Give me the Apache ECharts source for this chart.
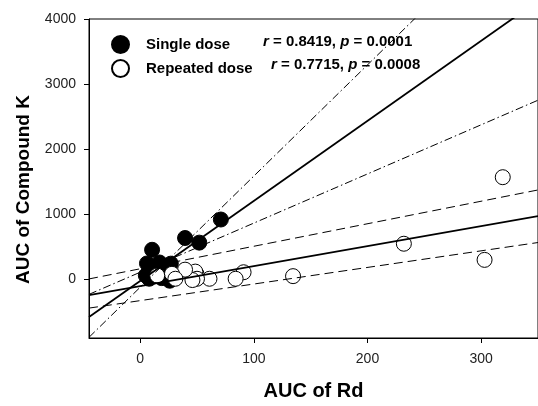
<!DOCTYPE html>
<html>
<head>
<meta charset="utf-8">
<script src="https://cdn.jsdelivr.net/npm/echarts@6/dist/echarts.min.js"></script>
<style>
  html, body { margin: 0; padding: 0; background: #fff; }
  #main { width: 538px; height: 406px; }
</style>
</head>
<body>
<div id="main"></div>
<script>
// AUC of Rd (x) vs AUC of Compound K (y)
var singleDose = [
    [71, 920], [39.5, 636], [52, 565], [10.5, 455],
    [6, 245], [17, 260], [24, 210], [27, 242], [12, 150],
    [14, 90], [5, 60], [8, 10], [19, 20], [26, -20]
];
var repeatedDose = [
    [319, 1570], [232, 548], [303, 300], [134.5, 50],
    [91, 110], [84, 10], [61, 10], [49.5, 86], [48.5, 120],
    [50, 10], [46, -10], [39.5, 150], [28, 86], [15, 60], [31, 10]
];
// lines: [intercept, slope]
var singleFit = [-25, 12.3];
var singleBandHi = [-121, 17.08];
var singleBandLo = [110, 7.55];
var repeatedFit = [-103, 3.07];
var repeatedBandHi = [163, 3.46];
var repeatedBandLo = [-326, 2.55];

var statsSingle = '{i|r} = 0.8419, {i|p} = 0.0001';
var statsRepeated = '{i|r} = 0.7715, {i|p} = 0.0008';

var xTicks = [0, 100, 200, 300];
var yTicks = [0, 1000, 2000, 3000, 4000];
var xMin = -45, xMax = 350;

var font = 'Arial, "Liberation Sans", sans-serif';

function lineData(p) {
    return [[xMin, p[0] + p[1] * xMin], [xMax, p[0] + p[1] * xMax]];
}
function lineSeries(p, type, width) {
    return {
        type: 'line',
        data: lineData(p),
        symbol: 'none',
        silent: true,
        z: 5,
        lineStyle: { color: '#000', width: width, type: type }
    };
}

var myChart = echarts.init(document.getElementById('main'));
var dashDot = [8, 3, 1.5, 3];
var dashed = [9, 5];

myChart.setOption({
    animation: false,
    textStyle: { fontFamily: font },
    grid: {
        left: 89, top: 19, bottom: 63, right: -2,
        show: true, borderColor: '#000', borderWidth: 1
    },
    title: [
        {
            text: statsSingle, left: 263, top: 34, padding: 0,
            textStyle: {
                fontSize: 15, fontWeight: 'bold', color: '#000', fontFamily: font,
                rich: { i: { fontSize: 15, fontWeight: 'bold', fontStyle: 'italic', color: '#000', fontFamily: font } }
            }
        },
        {
            text: statsRepeated, left: 271, top: 57, padding: 0,
            textStyle: {
                fontSize: 15, fontWeight: 'bold', color: '#000', fontFamily: font,
                rich: { i: { fontSize: 15, fontWeight: 'bold', fontStyle: 'italic', color: '#000', fontFamily: font } }
            }
        }
    ],
    legend: {
        data: ['Single dose', 'Repeated dose'],
        orient: 'vertical',
        left: 111, top: 35, padding: 0,
        itemWidth: 17, itemHeight: 17, itemGap: 5,
        icon: 'circle',
        textStyle: { fontSize: 15, fontWeight: 'bold', color: '#000', fontFamily: font, padding: [0, 0, 0, 12] }
    },
    xAxis: {
        type: 'value', min: xMin, max: xMax,
        name: 'AUC of Rd', nameLocation: 'middle', nameGap: 43,
        nameTextStyle: { fontSize: 20, fontWeight: 'bold', color: '#000', fontFamily: font },
        splitLine: { show: false },
        axisLine: { onZero: false, lineStyle: { color: '#000' } },
        axisTick: { customValues: xTicks, length: 5, lineStyle: { color: '#000' } },
        axisLabel: { customValues: xTicks, fontSize: 14, color: '#222', margin: 14,
            formatter: function (v) { return String(v); } }
    },
    yAxis: {
        type: 'value', min: -900, max: 4000,
        name: 'AUC of Compound K', nameLocation: 'middle', nameGap: 56,
        nameTextStyle: { fontSize: 19, fontWeight: 'bold', color: '#000', fontFamily: font, padding: [0, 0, 0, -22] },
        splitLine: { show: false },
        axisLine: { show: true, onZero: false, lineStyle: { color: '#000' } },
        axisTick: { show: true, customValues: yTicks, length: 5, lineStyle: { color: '#000' } },
        axisLabel: { customValues: yTicks, fontSize: 14, color: '#222', margin: 13,
            formatter: function (v) { return String(v); } }
    },
    series: [
        {
            name: 'Single dose', type: 'scatter', data: singleDose,
            symbolSize: 15, z: 2,
            itemStyle: { color: '#000', borderColor: '#000', borderWidth: 1, opacity: 1 }
        },
        {
            name: 'Repeated dose', type: 'scatter', data: repeatedDose,
            symbolSize: 15, z: 3,
            itemStyle: { color: '#fff', borderColor: '#000', borderWidth: 1, opacity: 1 }
        },
        lineSeries(singleFit, 'solid', 1.8),
        lineSeries(singleBandHi, dashDot, 1),
        lineSeries(singleBandLo, dashDot, 1),
        lineSeries(repeatedFit, 'solid', 1.8),
        lineSeries(repeatedBandHi, dashed, 1),
        lineSeries(repeatedBandLo, dashed, 1)
    ]
});
window.onresize = myChart.resize;
</script>
</body>
</html>
